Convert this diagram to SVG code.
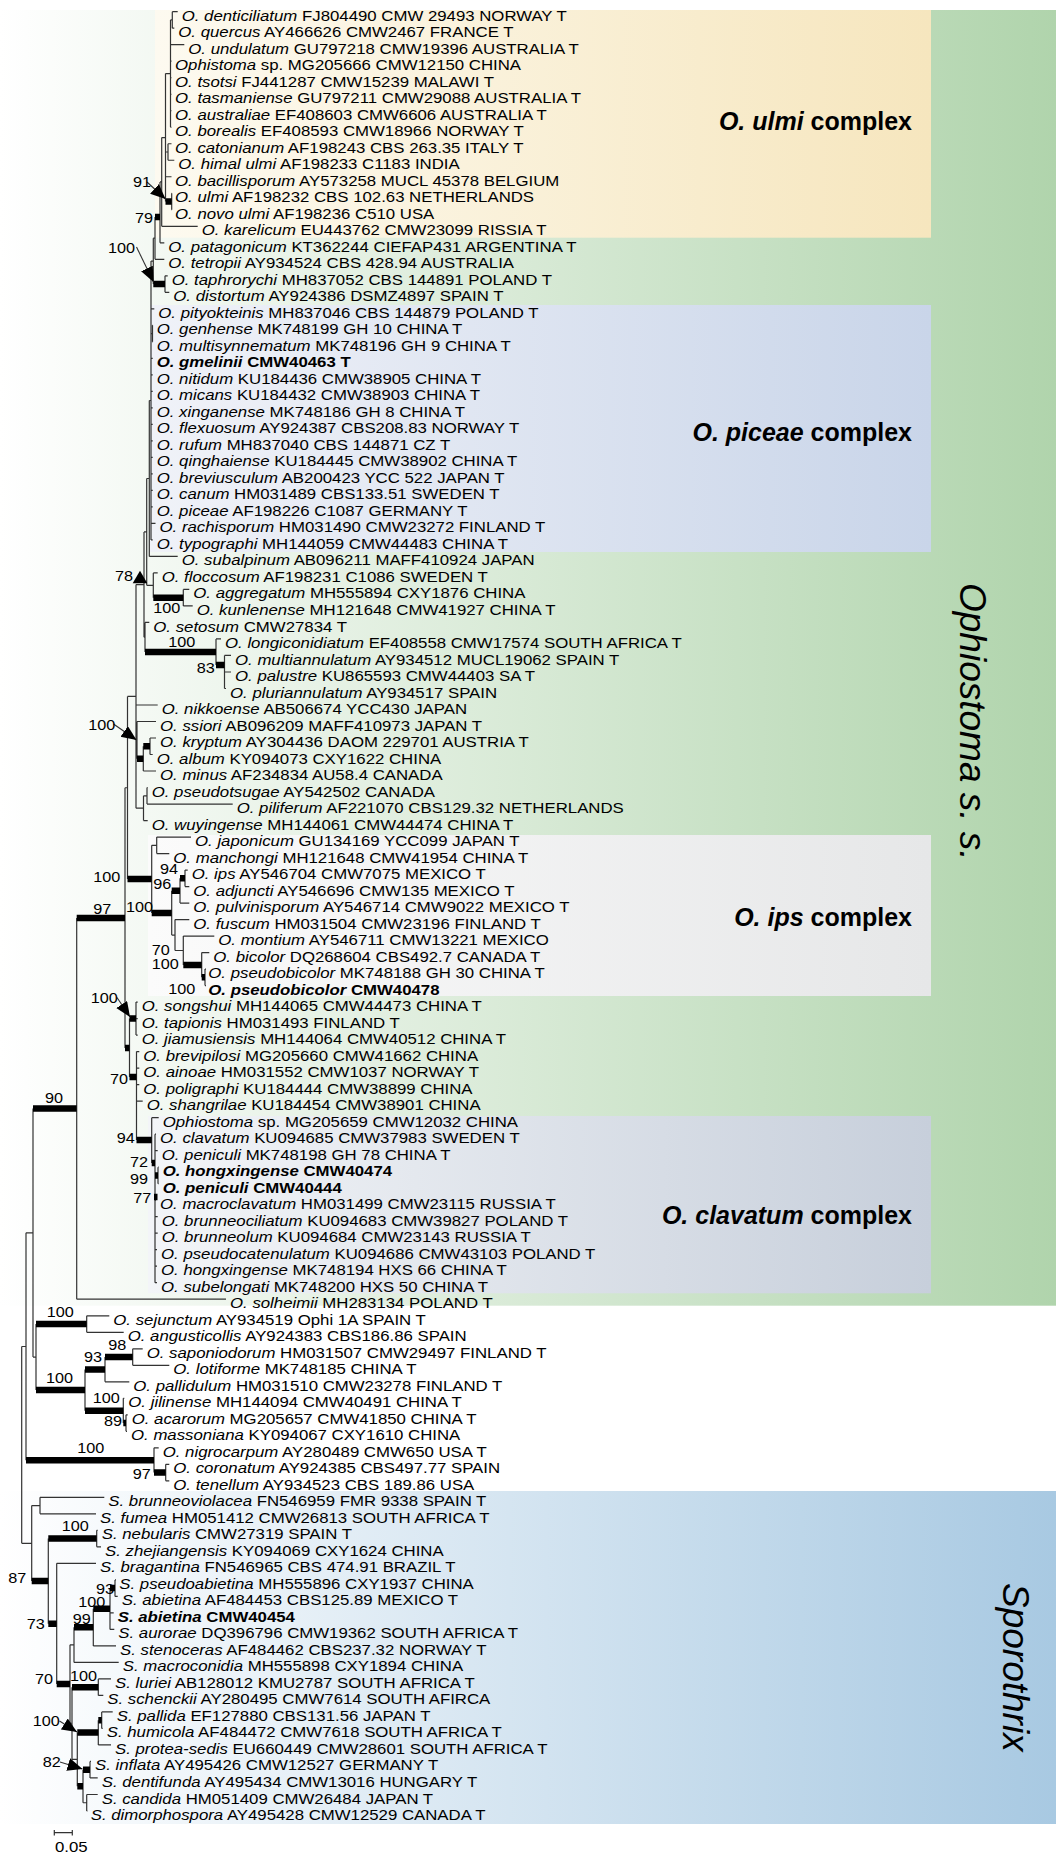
<svg xmlns="http://www.w3.org/2000/svg" width="1056" height="1856" viewBox="0 0 1056 1856">
<defs>
<style>
text{font-family:"Liberation Sans",Arial,Helvetica,sans-serif;fill:#000}
.lf{font-size:15px}
.s{font-size:14.5px}
.i{font-style:italic}
.bd{font-weight:bold}
.gl{font-size:25px;font-weight:bold}
.vl{font-size:37px;font-style:italic}
.br{fill:none;stroke:#333;stroke-width:1.2}
.tk{fill:none;stroke:#000;stroke-width:6.5}
.ar{stroke:#333;stroke-width:1.1}
</style>
<marker id="ah" markerUnits="userSpaceOnUse" markerWidth="16" markerHeight="14" refX="15" refY="6.5" orient="auto"><path d="M0 0L15 6.5L0 13z" fill="#000"/></marker>
<linearGradient id="gGreen" gradientUnits="userSpaceOnUse" x1="0" y1="0" x2="1056" y2="0"><stop offset="0" stop-color="#ffffff"/><stop offset="1" stop-color="#b0d4ac"/></linearGradient>
<linearGradient id="gBlue" gradientUnits="userSpaceOnUse" x1="0" y1="0" x2="1056" y2="0"><stop offset="0" stop-color="#ffffff"/><stop offset="1" stop-color="#a8c9e2"/></linearGradient>
<linearGradient id="gUlmi" gradientUnits="userSpaceOnUse" x1="155" y1="0" x2="931" y2="0"><stop offset="0" stop-color="#fdfaf0"/><stop offset="1" stop-color="#f6e6be"/></linearGradient>
<linearGradient id="gPic" gradientUnits="userSpaceOnUse" x1="150" y1="0" x2="931" y2="0"><stop offset="0" stop-color="#f0f2f8"/><stop offset="1" stop-color="#c9d5e9"/></linearGradient>
<linearGradient id="gIps" gradientUnits="userSpaceOnUse" x1="148" y1="0" x2="931" y2="0"><stop offset="0" stop-color="#fbfbfb"/><stop offset="1" stop-color="#e6e7e8"/></linearGradient>
<linearGradient id="gClav" gradientUnits="userSpaceOnUse" x1="148" y1="0" x2="931" y2="0"><stop offset="0" stop-color="#f3f5f8"/><stop offset="1" stop-color="#c7cfdb"/></linearGradient>
</defs>

<g id="backgrounds">
<rect x="0" y="10" width="1056" height="1295.7" fill="url(#gGreen)"/>
<rect x="155" y="10" width="776" height="227.7" fill="url(#gUlmi)"/>
<rect x="150" y="305" width="781" height="247" fill="url(#gPic)"/>
<rect x="148" y="835" width="783" height="161" fill="url(#gIps)"/>
<rect x="148" y="1116" width="783" height="177.3" fill="url(#gClav)"/>
<rect x="0" y="1491" width="1056" height="333" fill="url(#gBlue)"/>
</g>

<g id="group-labels">
<g id="lbl-ulmi"><text class="gl" x="912" y="130" text-anchor="end"><tspan class="i">O. ulmi</tspan> complex</text></g>
<g id="lbl-piceae"><text class="gl" x="912" y="441" text-anchor="end"><tspan class="i">O. piceae</tspan> complex</text></g>
<g id="lbl-ips"><text class="gl" x="912" y="926" text-anchor="end"><tspan class="i">O. ips</tspan> complex</text></g>
<g id="lbl-clavatum"><text class="gl" x="912" y="1224" text-anchor="end"><tspan class="i">O. clavatum</tspan> complex</text></g>
<g id="lbl-ophiostoma"><text class="vl" transform="translate(960 583) rotate(90)">Ophiostoma s. s.</text></g>
<g id="lbl-sporothrix"><text class="vl" transform="translate(1003 1583) rotate(90)">Sporothrix</text></g>
</g>

<g id="connectors">
<path class="br" d="M172.3 11.7V28.2M172.3 11.7H177.7M172.3 28.2H174.3M170.5 19.95H172.3
M170.5 19.95V127.25M170.5 44.71H184.3M170.5 61.22H171.5M170.5 77.73H171.5M170.5 94.24H171.5M170.5 110.74H171.5M170.5 127.25H171.5
M165.5 73.6H170.5M168 143.76V160.26M168 143.76H171.5M168 160.26H174.3M165.5 152H168M165.5 176.77H171.5
M171.7 193.28V209.78M171.7 193.28H172M171.7 209.78H172M165.5 73.6V201.5
M161.7 137.55H165.5M161.7 137.55V226.29M161.7 226.29H197.7
M160 181.9H161.7M160 181.9V242.8M160 242.8H164.3
M155 217V259.31M155 259.31H164.3M153.3 238.2H155
M165 275.81V292.32M165 275.81H167.7M165 292.32H169.3M153.3 238.2V284.07
M151 261.1H153.3M151 261.1V539.92M151 308.83H154.3M151 333.6H152.5M152.5 325.33V341.84M152.5 325.33H153M152.5 341.84H153
M151 358.35H152.7M151 374.85H152.7M151 391.36H152.7M151 407.87H152.7M151 424.38H152.7M151 440.88H152.7M151 457.39H152.7M151 473.9H152.7M151 490.4H152.7M151 506.91H152.7M151 523.42H155.5M151 539.92H152.7
M149.3 400.5H151M149.3 400.5V556.43M149.3 556.43H177.7
M146.7 478.5H149.3M146.7 478.5V585.3M146.7 585.3H153.3
M153.3 572.94V597.7M153.3 572.94H157.7
M183.3 589.45V605.95M183.3 589.45H189.3M183.3 605.95H192.7
M144 531.9H146.7M144 531.9V637.2M144 637.2H145
M145 622.46V652M145 622.46H149.3
M216 638.97V665M216 638.97H221
M224.5 655.47V688.49M224.5 655.47H231M224.5 671.98H231M224.5 688.49H226
M136 584.55H144M136 584.55V808.2M136 704.99H157.7M136 740.1H137
M137 721.5V758.65M137 721.5H156
M143.3 746.27V771.02M143.3 771.02H156
M150 738.01V754.52M150 738.01H156M150 754.52H152.7
M136 808.2H143.5M143.5 795.8V820.54M143.5 820.54H147.7M143.5 795.8H147
M147 787.53V804.04M147 787.53H147.7M147 804.04H232.7
M127.5 696.4H136M127.5 696.4V879.1M125 787.75H127.5
M151.7 845.3V912.9M151.7 845.3H156.7M156.7 837.05V853.56M156.7 837.05H191M156.7 853.56H169.3
M171.7 890.7V935.05M180 878.3V903.08M180 903.08H189.3
M185 870.06V886.57M185 870.06H187.7M185 886.57H189.3
M171.7 935.05H175M175 919.59V950.5M175 919.59H189.3
M175 950.5H183.3M183.3 936.09V965M183.3 936.09H214.3
M201.7 952.6V977.36M201.7 952.6H209.3
M205 969.11V985.61M205 969.11H206M205 985.61H206
M125 787.75V1048M129.5 1018.6V1077
M136 1002.1V1035.1M136 1002.1H137.7M136 1018.6H137.7M136 1035.1H137.7
M136.5 1051.6V1140M136.5 1051.6H139.3M136.5 1068.1H139.3M136.5 1084.7H139.3M136.5 1101.2H142.7
M151.7 1117.7V1163M151.7 1117.7H158.7
M155 1134.2V1282.7M155 1134.2H156M155 1150.7H157.7M155 1200.2H156M155 1216.7H157.7M155 1233.2H157.7M155 1249.7H157M155 1266.2H157M155 1282.7H157
M158 1167.2V1183.7M158 1167.2H158.7M158 1183.7H158.7
M76.7 917.9V1299.2M76.7 1299.2H226
M86.7 1315.8V1332.3M86.7 1315.8H109.3M86.7 1332.3H123.7
M132.7 1348.8V1365.3M132.7 1348.8H142.7M132.7 1365.3H169.3
M105 1357.05V1381.8M105 1381.8H129.3
M126 1414.8V1431.3M126 1414.8H127.7M126 1431.3H127
M123.3 1398.3V1423.05M123.3 1398.3H124.3
M85 1369.4V1410.7M36 1324.05V1390.05M33 1357.05H36
M33 1108.6V1357.05M26 1232.8H33
M165.7 1464.3V1480.8M165.7 1464.3H169.3M165.7 1480.8H169.3
M154 1447.8V1472.6M154 1447.8H158.7
M26 1232.8V1460.2M21.7 1346.5H26
M40 1497.3V1513.8M40 1497.3H104.3M40 1513.8H96M31.7 1505.55H40
M96.7 1530.3V1546.8M96.7 1530.3H97.7M96.7 1546.8H101
M115 1579.9V1596.4M115 1579.9H116M115 1596.4H117.7
M110 1588.1V1629.4M110 1612.9H113.7M110 1629.4H114.3
M93.3 1608.75V1645.9M93.3 1645.9H116
M74 1627.3V1662.4M74 1662.4H118.7M70 1644.85H74
M98.3 1678.9V1695.4M98.3 1678.9H111M98.3 1695.4H103.3
M101.7 1711.9V1728.4M101.7 1711.9H112.7M101.7 1728.4H102.7
M98.3 1720.15V1744.9M98.3 1744.9H111
M90 1761.4V1777.9M90 1761.4H91M90 1777.9H97.7
M86.7 1794.5V1811M86.7 1794.5H97.7M86.7 1811H87.5M83 1802.75H86.7
M83 1769.65V1802.75M77.3 1732.55V1786.2M72 1759.4H77.3
M72 1687.15V1759.4M70 1723.25H72M70 1644.85V1723.25
M56.7 1563.3V1684.1M56.7 1563.3H96M48.3 1538.55V1623.7
M31.7 1505.55V1581.1M21.7 1543.3H31.7M21.7 1346.5V1543.3"/>
<path class="tk" d="M165.5 201.5H171.7M155 217H160M153.3 284.07H165M153.3 597.7H183.3M145 652H216M216 665H224.5
M137 758.65H143.3M143.3 746.27H150M127.5 879.1H151.7M151.7 912.9H171.7M171.7 890.7H180M180 878.3H185
M183.3 965H201.7M201.7 977.36H205M76.7 917.9H125M125 1048H129.5M129.5 1018.6H136M129.5 1077H136.5
M136.5 1140H151.7M151.7 1163H155M155 1175.5H158M154 1197H157.5
M33 1108.6H76.7M36 1324.05H86.7M36 1390.05H85M85 1369.4H105M105 1357.05H132.7M85 1410.7H123.3M123.3 1423.05H126
M26 1460.2H154M154 1472.6H165.7M48.3 1538.55H96.7M31.7 1581.1H48.3M48.3 1623.7H56.7M56.7 1684.1H70
M74 1627.3H93.3M93.3 1608.75H110M110 1588.1H115M72 1687.15H98.3M77.3 1732.55H98.3M98.3 1720.15H101.7
M77.3 1786.2H83M83 1769.65H90"/>
<line class="ar" x1="147" y1="182" x2="165.5" y2="199" marker-end="url(#ah)"/>
<line class="ar" x1="136.5" y1="247" x2="153.5" y2="282" marker-end="url(#ah)"/>
<line class="ar" x1="113.5" y1="724" x2="136.5" y2="740" marker-end="url(#ah)"/>
<line class="ar" x1="117" y1="997.5" x2="130" y2="1017" marker-end="url(#ah)"/>
<line class="ar" x1="59.5" y1="1721" x2="77" y2="1732" marker-end="url(#ah)"/>
<line class="ar" x1="60" y1="1762" x2="82.5" y2="1769" marker-end="url(#ah)"/>
<polygon points="132.7,583.3 147.3,583.3 140,570.7" fill="#000"/>
<path class="br" d="M54.3 1832.7H72.3M54.3 1830V1835.5M72.3 1830V1835.5"/>
</g>

<g id="supports">
<g id="s91"><text class="s" transform="translate(133 187) scale(1.12 1)">91</text></g>
<g id="s79"><text class="s" transform="translate(135 223) scale(1.12 1)">79</text></g>
<g id="s100a"><text class="s" transform="translate(108 253) scale(1.12 1)">100</text></g>
<g id="s78"><text class="s" transform="translate(115 580.7) scale(1.12 1)">78</text></g>
<g id="s100b"><text class="s" transform="translate(153.3 613) scale(1.12 1)">100</text></g>
<g id="s100c"><text class="s" transform="translate(168.3 646.7) scale(1.12 1)">100</text></g>
<g id="s83"><text class="s" transform="translate(196.7 672.7) scale(1.12 1)">83</text></g>
<g id="s100d"><text class="s" transform="translate(88.3 730) scale(1.12 1)">100</text></g>
<g id="s100e"><text class="s" transform="translate(93.3 881.7) scale(1.12 1)">100</text></g>
<g id="s94a"><text class="s" transform="translate(160 874) scale(1.12 1)">94</text></g>
<g id="s96"><text class="s" transform="translate(153.3 889.3) scale(1.12 1)">96</text></g>
<g id="s100f"><text class="s" transform="translate(126 911.7) scale(1.12 1)">100</text></g>
<g id="s97a"><text class="s" transform="translate(93.3 913.5) scale(1.12 1)">97</text></g>
<g id="s70a"><text class="s" transform="translate(151.7 955) scale(1.12 1)">70</text></g>
<g id="s100g"><text class="s" transform="translate(151.7 969.3) scale(1.12 1)">100</text></g>
<g id="s100h"><text class="s" transform="translate(168.3 994) scale(1.12 1)">100</text></g>
<g id="s100i"><text class="s" transform="translate(90.7 1003.3) scale(1.12 1)">100</text></g>
<g id="s70b"><text class="s" transform="translate(110 1084) scale(1.12 1)">70</text></g>
<g id="s90"><text class="s" transform="translate(45 1103) scale(1.12 1)">90</text></g>
<g id="s94b"><text class="s" transform="translate(116.7 1143.3) scale(1.12 1)">94</text></g>
<g id="s72"><text class="s" transform="translate(130 1166.7) scale(1.12 1)">72</text></g>
<g id="s99a"><text class="s" transform="translate(130 1184) scale(1.12 1)">99</text></g>
<g id="s77"><text class="s" transform="translate(133.3 1202.7) scale(1.12 1)">77</text></g>
<g id="s100j"><text class="s" transform="translate(46.7 1316.7) scale(1.12 1)">100</text></g>
<g id="s98"><text class="s" transform="translate(108.3 1350) scale(1.12 1)">98</text></g>
<g id="s93a"><text class="s" transform="translate(84 1361.7) scale(1.12 1)">93</text></g>
<g id="s100k"><text class="s" transform="translate(46 1382.7) scale(1.12 1)">100</text></g>
<g id="s100l"><text class="s" transform="translate(92.7 1402.7) scale(1.12 1)">100</text></g>
<g id="s89"><text class="s" transform="translate(104 1426) scale(1.12 1)">89</text></g>
<g id="s100m"><text class="s" transform="translate(77.3 1453.3) scale(1.12 1)">100</text></g>
<g id="s97b"><text class="s" transform="translate(132.7 1479.3) scale(1.12 1)">97</text></g>
<g id="s100n"><text class="s" transform="translate(61.7 1530.7) scale(1.12 1)">100</text></g>
<g id="s87"><text class="s" transform="translate(8.3 1583.3) scale(1.12 1)">87</text></g>
<g id="s93b"><text class="s" transform="translate(96 1594.3) scale(1.12 1)">93</text></g>
<g id="s100o"><text class="s" transform="translate(78.3 1607.3) scale(1.12 1)">100</text></g>
<g id="s99b"><text class="s" transform="translate(72.7 1624) scale(1.12 1)">99</text></g>
<g id="s73"><text class="s" transform="translate(26.7 1629.3) scale(1.12 1)">73</text></g>
<g id="s100p"><text class="s" transform="translate(70 1680.7) scale(1.12 1)">100</text></g>
<g id="s70c"><text class="s" transform="translate(35 1684) scale(1.12 1)">70</text></g>
<g id="s100q"><text class="s" transform="translate(32.7 1726) scale(1.12 1)">100</text></g>
<g id="s82"><text class="s" transform="translate(42.7 1767.3) scale(1.12 1)">82</text></g>
<g id="scale"><text class="lf" transform="translate(55 1851.7) scale(1.12 1)">0.05</text></g>
</g>

<g id="leaves">
<g id="t0"><text class="lf" transform="translate(181.7 20.7) scale(1.12 1)"><tspan class="i">O. denticiliatum</tspan> FJ804490 CMW 29493 NORWAY T</text></g>
<g id="t1"><text class="lf" transform="translate(178.3 37.2) scale(1.12 1)"><tspan class="i">O. quercus</tspan> AY466626 CMW2467 FRANCE T</text></g>
<g id="t2"><text class="lf" transform="translate(188.3 53.7) scale(1.12 1)"><tspan class="i">O. undulatum</tspan> GU797218 CMW19396 AUSTRALIA T</text></g>
<g id="t3"><text class="lf" transform="translate(175 70.2) scale(1.12 1)"><tspan class="i">Ophistoma</tspan> sp. MG205666 CMW12150 CHINA</text></g>
<g id="t4"><text class="lf" transform="translate(175 86.7) scale(1.12 1)"><tspan class="i">O. tsotsi</tspan> FJ441287 CMW15239 MALAWI T</text></g>
<g id="t5"><text class="lf" transform="translate(175 103.2) scale(1.12 1)"><tspan class="i">O. tasmaniense</tspan> GU797211 CMW29088 AUSTRALIA T</text></g>
<g id="t6"><text class="lf" transform="translate(175 119.7) scale(1.12 1)"><tspan class="i">O. australiae</tspan> EF408603 CMW6606 AUSTRALIA T</text></g>
<g id="t7"><text class="lf" transform="translate(175 136.2) scale(1.12 1)"><tspan class="i">O. borealis</tspan> EF408593 CMW18966 NORWAY T</text></g>
<g id="t8"><text class="lf" transform="translate(175 152.8) scale(1.12 1)"><tspan class="i">O. catonianum</tspan> AF198243 CBS 263.35 ITALY T</text></g>
<g id="t9"><text class="lf" transform="translate(178.3 169.3) scale(1.12 1)"><tspan class="i">O. himal ulmi</tspan> AF198233 C1183 INDIA</text></g>
<g id="t10"><text class="lf" transform="translate(175 185.8) scale(1.12 1)"><tspan class="i">O. bacillisporum</tspan> AY573258 MUCL 45378 BELGIUM</text></g>
<g id="t11"><text class="lf" transform="translate(175 202.3) scale(1.12 1)"><tspan class="i">O. ulmi</tspan> AF198232 CBS 102.63 NETHERLANDS</text></g>
<g id="t12"><text class="lf" transform="translate(175 218.8) scale(1.12 1)"><tspan class="i">O. novo ulmi</tspan> AF198236 C510 USA</text></g>
<g id="t13"><text class="lf" transform="translate(201.7 235.3) scale(1.12 1)"><tspan class="i">O. karelicum</tspan> EU443762 CMW23099 RISSIA T</text></g>
<g id="t14"><text class="lf" transform="translate(168.3 251.8) scale(1.12 1)"><tspan class="i">O. patagonicum</tspan> KT362244 CIEFAP431 ARGENTINA T</text></g>
<g id="t15"><text class="lf" transform="translate(168.3 268.3) scale(1.12 1)"><tspan class="i">O. tetropii</tspan> AY934524 CBS 428.94 AUSTRALIA</text></g>
<g id="t16"><text class="lf" transform="translate(171.7 284.8) scale(1.12 1)"><tspan class="i">O. taphrorychi</tspan> MH837052 CBS 144891 POLAND T</text></g>
<g id="t17"><text class="lf" transform="translate(173.3 301.3) scale(1.12 1)"><tspan class="i">O. distortum</tspan> AY924386 DSMZ4897 SPAIN T</text></g>
<g id="t18"><text class="lf" transform="translate(158.3 317.8) scale(1.12 1)"><tspan class="i">O. pityokteinis</tspan> MH837046 CBS 144879 POLAND T</text></g>
<g id="t19"><text class="lf" transform="translate(156.7 334.3) scale(1.12 1)"><tspan class="i">O. genhense</tspan> MK748199 GH 10 CHINA T</text></g>
<g id="t20"><text class="lf" transform="translate(156.7 350.8) scale(1.12 1)"><tspan class="i">O. multisynnematum</tspan> MK748196 GH 9 CHINA T</text></g>
<g id="t21"><text class="lf bd" transform="translate(156.7 367.3) scale(1.12 1)"><tspan class="i">O. gmelinii</tspan> CMW40463 T</text></g>
<g id="t22"><text class="lf" transform="translate(156.7 383.9) scale(1.12 1)"><tspan class="i">O. nitidum</tspan> KU184436 CMW38905 CHINA T</text></g>
<g id="t23"><text class="lf" transform="translate(156.7 400.4) scale(1.12 1)"><tspan class="i">O. micans</tspan> KU184432 CMW38903 CHINA T</text></g>
<g id="t24"><text class="lf" transform="translate(156.7 416.9) scale(1.12 1)"><tspan class="i">O. xinganense</tspan> MK748186 GH 8 CHINA T</text></g>
<g id="t25"><text class="lf" transform="translate(156.7 433.4) scale(1.12 1)"><tspan class="i">O. flexuosum</tspan> AY924387 CBS208.83 NORWAY T</text></g>
<g id="t26"><text class="lf" transform="translate(156.7 449.9) scale(1.12 1)"><tspan class="i">O. rufum</tspan> MH837040 CBS 144871 CZ T</text></g>
<g id="t27"><text class="lf" transform="translate(156.7 466.4) scale(1.12 1)"><tspan class="i">O. qinghaiense</tspan> KU184445 CMW38902 CHINA T</text></g>
<g id="t28"><text class="lf" transform="translate(156.7 482.9) scale(1.12 1)"><tspan class="i">O. breviusculum</tspan> AB200423 YCC 522 JAPAN T</text></g>
<g id="t29"><text class="lf" transform="translate(156.7 499.4) scale(1.12 1)"><tspan class="i">O. canum</tspan> HM031489 CBS133.51 SWEDEN T</text></g>
<g id="t30"><text class="lf" transform="translate(156.7 515.9) scale(1.12 1)"><tspan class="i">O. piceae</tspan> AF198226 C1087 GERMANY T</text></g>
<g id="t31"><text class="lf" transform="translate(159.5 532.4) scale(1.12 1)"><tspan class="i">O. rachisporum</tspan> HM031490 CMW23272 FINLAND T</text></g>
<g id="t32"><text class="lf" transform="translate(156.7 548.9) scale(1.12 1)"><tspan class="i">O. typographi</tspan> MH144059 CMW44483 CHINA T</text></g>
<g id="t33"><text class="lf" transform="translate(181.7 565.4) scale(1.12 1)"><tspan class="i">O. subalpinum</tspan> AB096211 MAFF410924 JAPAN</text></g>
<g id="t34"><text class="lf" transform="translate(161.7 582) scale(1.12 1)"><tspan class="i">O. floccosum</tspan> AF198231 C1086 SWEDEN T</text></g>
<g id="t35"><text class="lf" transform="translate(193.3 598.4) scale(1.12 1)"><tspan class="i">O. aggregatum</tspan> MH555894 CXY1876 CHINA</text></g>
<g id="t36"><text class="lf" transform="translate(196.7 615) scale(1.12 1)"><tspan class="i">O. kunlenense</tspan> MH121648 CMW41927 CHINA T</text></g>
<g id="t37"><text class="lf" transform="translate(153.3 631.5) scale(1.12 1)"><tspan class="i">O. setosum</tspan> CMW27834 T</text></g>
<g id="t38"><text class="lf" transform="translate(225 648) scale(1.12 1)"><tspan class="i">O. longiconidiatum</tspan> EF408558 CMW17574 SOUTH AFRICA T</text></g>
<g id="t39"><text class="lf" transform="translate(235 664.5) scale(1.12 1)"><tspan class="i">O. multiannulatum</tspan> AY934512 MUCL19062 SPAIN T</text></g>
<g id="t40"><text class="lf" transform="translate(235 681) scale(1.12 1)"><tspan class="i">O. palustre</tspan> KU865593 CMW44403 SA T</text></g>
<g id="t41"><text class="lf" transform="translate(230 697.5) scale(1.12 1)"><tspan class="i">O. pluriannulatum</tspan> AY934517 SPAIN</text></g>
<g id="t42"><text class="lf" transform="translate(161.7 714) scale(1.12 1)"><tspan class="i">O. nikkoense</tspan> AB506674 YCC430 JAPAN</text></g>
<g id="t43"><text class="lf" transform="translate(160 730.5) scale(1.12 1)"><tspan class="i">O. ssiori</tspan> AB096209 MAFF410973 JAPAN T</text></g>
<g id="t44"><text class="lf" transform="translate(160 747) scale(1.12 1)"><tspan class="i">O. kryptum</tspan> AY304436 DAOM 229701 AUSTRIA T</text></g>
<g id="t45"><text class="lf" transform="translate(156.7 763.5) scale(1.12 1)"><tspan class="i">O. album</tspan> KY094073 CXY1622 CHINA</text></g>
<g id="t46"><text class="lf" transform="translate(160 780) scale(1.12 1)"><tspan class="i">O. minus</tspan> AF234834 AU58.4 CANADA</text></g>
<g id="t47"><text class="lf" transform="translate(151.7 796.5) scale(1.12 1)"><tspan class="i">O. pseudotsugae</tspan> AY542502 CANADA</text></g>
<g id="t48"><text class="lf" transform="translate(236.7 813) scale(1.12 1)"><tspan class="i">O. piliferum</tspan> AF221070 CBS129.32 NETHERLANDS</text></g>
<g id="t49"><text class="lf" transform="translate(151.7 829.5) scale(1.12 1)"><tspan class="i">O. wuyingense</tspan> MH144061 CMW44474 CHINA T</text></g>
<g id="t50"><text class="lf" transform="translate(195 846.1) scale(1.12 1)"><tspan class="i">O. japonicum</tspan> GU134169 YCC099 JAPAN T</text></g>
<g id="t51"><text class="lf" transform="translate(173.3 862.6) scale(1.12 1)"><tspan class="i">O. manchongi</tspan> MH121648 CMW41954 CHINA T</text></g>
<g id="t52"><text class="lf" transform="translate(191.7 879.1) scale(1.12 1)"><tspan class="i">O. ips</tspan> AY546704 CMW7075 MEXICO T</text></g>
<g id="t53"><text class="lf" transform="translate(193.3 895.6) scale(1.12 1)"><tspan class="i">O. adjuncti</tspan> AY546696 CMW135 MEXICO T</text></g>
<g id="t54"><text class="lf" transform="translate(193.3 912.1) scale(1.12 1)"><tspan class="i">O. pulvinisporum</tspan> AY546714 CMW9022 MEXICO T</text></g>
<g id="t55"><text class="lf" transform="translate(193.3 928.6) scale(1.12 1)"><tspan class="i">O. fuscum</tspan> HM031504 CMW23196 FINLAND T</text></g>
<g id="t56"><text class="lf" transform="translate(218.3 945.1) scale(1.12 1)"><tspan class="i">O. montium</tspan> AY546711 CMW13221 MEXICO</text></g>
<g id="t57"><text class="lf" transform="translate(213.3 961.6) scale(1.12 1)"><tspan class="i">O. bicolor</tspan> DQ268604 CBS492.7 CANADA T</text></g>
<g id="t58"><text class="lf" transform="translate(208.3 978.1) scale(1.12 1)"><tspan class="i">O. pseudobicolor</tspan> MK748188 GH 30 CHINA T</text></g>
<g id="t59"><text class="lf bd" transform="translate(208.3 994.6) scale(1.12 1)"><tspan class="i">O. pseudobicolor</tspan> CMW40478</text></g>
<g id="t60"><text class="lf" transform="translate(141.7 1011.1) scale(1.12 1)"><tspan class="i">O. songshui</tspan> MH144065 CMW44473 CHINA T</text></g>
<g id="t61"><text class="lf" transform="translate(141.7 1027.6) scale(1.12 1)"><tspan class="i">O. tapionis</tspan> HM031493 FINLAND T</text></g>
<g id="t62"><text class="lf" transform="translate(141.7 1044.1) scale(1.12 1)"><tspan class="i">O. jiamusiensis</tspan> MH144064 CMW40512 CHINA T</text></g>
<g id="t63"><text class="lf" transform="translate(143.3 1060.6) scale(1.12 1)"><tspan class="i">O. brevipilosi</tspan> MG205660 CMW41662 CHINA</text></g>
<g id="t64"><text class="lf" transform="translate(143.3 1077.1) scale(1.12 1)"><tspan class="i">O. ainoae</tspan> HM031552 CMW1037 NORWAY T</text></g>
<g id="t65"><text class="lf" transform="translate(143.3 1093.7) scale(1.12 1)"><tspan class="i">O. poligraphi</tspan> KU184444 CMW38899 CHINA</text></g>
<g id="t66"><text class="lf" transform="translate(146.7 1110.2) scale(1.12 1)"><tspan class="i">O. shangrilae</tspan> KU184454 CMW38901 CHINA</text></g>
<g id="t67"><text class="lf" transform="translate(162.7 1126.7) scale(1.12 1)"><tspan class="i">Ophiostoma</tspan> sp. MG205659 CMW12032 CHINA</text></g>
<g id="t68"><text class="lf" transform="translate(160 1143.2) scale(1.12 1)"><tspan class="i">O. clavatum</tspan> KU094685 CMW37983 SWEDEN T</text></g>
<g id="t69"><text class="lf" transform="translate(161.7 1159.7) scale(1.12 1)"><tspan class="i">O. peniculi</tspan> MK748198 GH 78 CHINA T</text></g>
<g id="t70"><text class="lf bd" transform="translate(162.7 1176.2) scale(1.12 1)"><tspan class="i">O. hongxingense</tspan> CMW40474</text></g>
<g id="t71"><text class="lf bd" transform="translate(162.7 1192.7) scale(1.12 1)"><tspan class="i">O. peniculi</tspan> CMW40444</text></g>
<g id="t72"><text class="lf" transform="translate(160 1209.2) scale(1.12 1)"><tspan class="i">O. macroclavatum</tspan> HM031499 CMW23115 RUSSIA T</text></g>
<g id="t73"><text class="lf" transform="translate(161.7 1225.7) scale(1.12 1)"><tspan class="i">O. brunneociliatum</tspan> KU094683 CMW39827 POLAND T</text></g>
<g id="t74"><text class="lf" transform="translate(161.7 1242.2) scale(1.12 1)"><tspan class="i">O. brunneolum</tspan> KU094684 CMW23143 RUSSIA T</text></g>
<g id="t75"><text class="lf" transform="translate(161 1258.7) scale(1.12 1)"><tspan class="i">O. pseudocatenulatum</tspan> KU094686 CMW43103 POLAND T</text></g>
<g id="t76"><text class="lf" transform="translate(161 1275.2) scale(1.12 1)"><tspan class="i">O. hongxingense</tspan> MK748194 HXS 66 CHINA T</text></g>
<g id="t77"><text class="lf" transform="translate(161 1291.7) scale(1.12 1)"><tspan class="i">O. subelongati</tspan> MK748200 HXS 50 CHINA T</text></g>
<g id="t78"><text class="lf" transform="translate(230 1308.2) scale(1.12 1)"><tspan class="i">O. solheimii</tspan> MH283134 POLAND T</text></g>
<g id="t79"><text class="lf" transform="translate(113.3 1324.8) scale(1.12 1)"><tspan class="i">O. sejunctum</tspan> AY934519 Ophi 1A SPAIN T</text></g>
<g id="t80"><text class="lf" transform="translate(127.7 1341.3) scale(1.12 1)"><tspan class="i">O. angusticollis</tspan> AY924383 CBS186.86 SPAIN</text></g>
<g id="t81"><text class="lf" transform="translate(146.7 1357.8) scale(1.12 1)"><tspan class="i">O. saponiodorum</tspan> HM031507 CMW29497 FINLAND T</text></g>
<g id="t82"><text class="lf" transform="translate(173.3 1374.3) scale(1.12 1)"><tspan class="i">O. lotiforme</tspan> MK748185 CHINA T</text></g>
<g id="t83"><text class="lf" transform="translate(133.3 1390.8) scale(1.12 1)"><tspan class="i">O. pallidulum</tspan> HM031510 CMW23278 FINLAND T</text></g>
<g id="t84"><text class="lf" transform="translate(128.3 1407.3) scale(1.12 1)"><tspan class="i">O. jilinense</tspan> MH144094 CMW40491 CHINA T</text></g>
<g id="t85"><text class="lf" transform="translate(131.7 1423.8) scale(1.12 1)"><tspan class="i">O. acarorum</tspan> MG205657 CMW41850 CHINA T</text></g>
<g id="t86"><text class="lf" transform="translate(131 1440.3) scale(1.12 1)"><tspan class="i">O. massoniana</tspan> KY094067 CXY1610 CHINA</text></g>
<g id="t87"><text class="lf" transform="translate(162.7 1456.8) scale(1.12 1)"><tspan class="i">O. nigrocarpum</tspan> AY280489 CMW650 USA T</text></g>
<g id="t88"><text class="lf" transform="translate(173.3 1473.3) scale(1.12 1)"><tspan class="i">O. coronatum</tspan> AY924385 CBS497.77 SPAIN</text></g>
<g id="t89"><text class="lf" transform="translate(173.3 1489.8) scale(1.12 1)"><tspan class="i">O. tenellum</tspan> AY934523 CBS 189.86 USA</text></g>
<g id="t90"><text class="lf" transform="translate(108.3 1506.3) scale(1.12 1)"><tspan class="i">S. brunneoviolacea</tspan> FN546959 FMR 9338 SPAIN T</text></g>
<g id="t91"><text class="lf" transform="translate(100 1522.8) scale(1.12 1)"><tspan class="i">S. fumea</tspan> HM051412 CMW26813 SOUTH AFRICA T</text></g>
<g id="t92"><text class="lf" transform="translate(101.7 1539.3) scale(1.12 1)"><tspan class="i">S. nebularis</tspan> CMW27319 SPAIN T</text></g>
<g id="t93"><text class="lf" transform="translate(105 1555.8) scale(1.12 1)"><tspan class="i">S. zhejiangensis</tspan> KY094069 CXY1624 CHINA</text></g>
<g id="t94"><text class="lf" transform="translate(100 1572.4) scale(1.12 1)"><tspan class="i">S. bragantina</tspan> FN546965 CBS 474.91 BRAZIL T</text></g>
<g id="t95"><text class="lf" transform="translate(119.3 1588.9) scale(1.12 1)"><tspan class="i">S. pseudoabietina</tspan> MH555896 CXY1937 CHINA</text></g>
<g id="t96"><text class="lf" transform="translate(121.7 1605.4) scale(1.12 1)"><tspan class="i">S. abietina</tspan> AF484453 CBS125.89 MEXICO T</text></g>
<g id="t97"><text class="lf bd" transform="translate(117.7 1621.9) scale(1.12 1)"><tspan class="i">S. abietina</tspan> CMW40454</text></g>
<g id="t98"><text class="lf" transform="translate(118.3 1638.4) scale(1.12 1)"><tspan class="i">S. aurorae</tspan> DQ396796 CMW19362 SOUTH AFRICA T</text></g>
<g id="t99"><text class="lf" transform="translate(120 1654.9) scale(1.12 1)"><tspan class="i">S. stenoceras</tspan> AF484462 CBS237.32 NORWAY T</text></g>
<g id="t100"><text class="lf" transform="translate(122.7 1671.4) scale(1.12 1)"><tspan class="i">S. macroconidia</tspan> MH555898 CXY1894 CHINA</text></g>
<g id="t101"><text class="lf" transform="translate(115 1687.9) scale(1.12 1)"><tspan class="i">S. luriei</tspan> AB128012 KMU2787 SOUTH AFRICA T</text></g>
<g id="t102"><text class="lf" transform="translate(107.3 1704.4) scale(1.12 1)"><tspan class="i">S. schenckii</tspan> AY280495 CMW7614 SOUTH AFIRCA</text></g>
<g id="t103"><text class="lf" transform="translate(116.7 1720.9) scale(1.12 1)"><tspan class="i">S. pallida</tspan> EF127880 CBS131.56 JAPAN T</text></g>
<g id="t104"><text class="lf" transform="translate(106.7 1737.4) scale(1.12 1)"><tspan class="i">S. humicola</tspan> AF484472 CMW7618 SOUTH AFRICA T</text></g>
<g id="t105"><text class="lf" transform="translate(115 1753.9) scale(1.12 1)"><tspan class="i">S. protea-sedis</tspan> EU660449 CMW28601 SOUTH AFRICA T</text></g>
<g id="t106"><text class="lf" transform="translate(95 1770.4) scale(1.12 1)"><tspan class="i">S. inflata</tspan> AY495426 CMW12527 GERMANY T</text></g>
<g id="t107"><text class="lf" transform="translate(101.7 1786.9) scale(1.12 1)"><tspan class="i">S. dentifunda</tspan> AY495434 CMW13016 HUNGARY T</text></g>
<g id="t108"><text class="lf" transform="translate(101.7 1803.5) scale(1.12 1)"><tspan class="i">S. candida</tspan> HM051409 CMW26484 JAPAN T</text></g>
<g id="t109"><text class="lf" transform="translate(90.7 1820) scale(1.12 1)"><tspan class="i">S. dimorphospora</tspan> AY495428 CMW12529 CANADA T</text></g>
</g>
</svg>
